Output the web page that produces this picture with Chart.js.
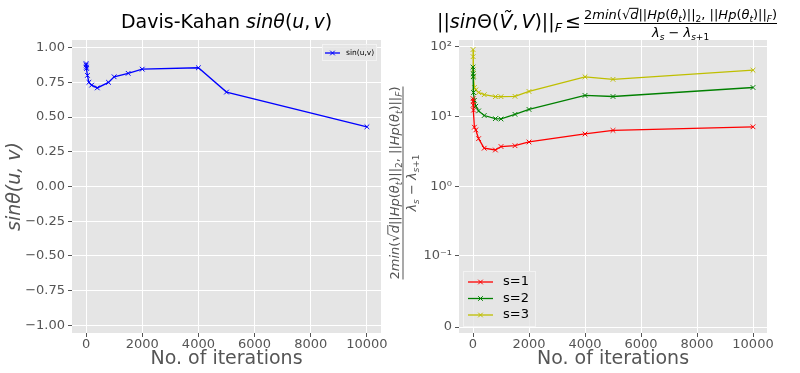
<!DOCTYPE html>
<html><head><meta charset="utf-8">
<script src="https://cdn.jsdelivr.net/npm/chart.js@4/dist/chart.umd.min.js"></script>
<style>
html,body{margin:0;padding:0;background:#fff;width:800px;height:373px;overflow:hidden;}
canvas{position:absolute;top:0;}
#c1{left:0;} #c2{left:380px;}
</style></head>
<body>
<canvas id="c1" width="395" height="373"></canvas>
<canvas id="c2" width="420" height="373"></canvas>
<script>
// ---------- data ----------
const iterations = [1, 5, 10, 20, 50, 100, 200, 400, 800, 1000, 1500, 2000, 4000, 5000, 10000];
const sinUV      = [0.885, 0.875, 0.86, 0.85, 0.80, 0.75, 0.73, 0.71, 0.75, 0.79, 0.815, 0.845, 0.855, 0.68, 0.43];
const boundS1    = [18, 16.5, 14.5, 12.3, 7.0, 6.4, 4.8, 3.5, 3.3, 3.7, 3.8, 4.3, 5.6, 6.3, 7.1];
const boundS2    = [51, 41, 37, 22, 17, 14, 12, 10.3, 9.3, 9.2, 10.7, 12.6, 20, 19.3, 26];
const boundS3    = [91, 72, 47, 38, 26, 24, 22, 20.5, 19.2, 19.2, 19.4, 22.8, 37, 34, 46];
const xTickValues = [0, 2000, 4000, 6000, 8000, 10000];
const leftYTicks  = [-1, -0.75, -0.5, -0.25, 0, 0.25, 0.5, 0.75, 1];
const rightYTicks = [0, 0.1, 1, 10, 100];
const rightYLabels = {0:'0', 0.1:'10\u207B\u00B9', 1:'10\u2070', 10:'10\u00B9', 100:'10\u00B2'};
const seriesNames = ['s=1', 's=2', 's=3'];
const seriesColors = ['#ff0000', '#008000', '#bfbf00'];

// ---------- symlog scale ----------
const LINTHRESH = 0.1, LINSCALE = 1.02;
function symT(v){ const a = Math.abs(v), s = v < 0 ? -1 : 1;
  return s * (a <= LINTHRESH ? a / LINTHRESH * LINSCALE : LINSCALE + Math.log10(a / LINTHRESH)); }
function symInv(t){ const a = Math.abs(t), s = t < 0 ? -1 : 1;
  return s * (a <= LINSCALE ? a / LINSCALE * LINTHRESH : LINTHRESH * Math.pow(10, a - LINSCALE)); }
class SymlogScale extends Chart.Scale {
  static id = 'symlog';
  static defaults = {};
  parse(raw){ return +raw; }
  determineDataLimits(){
    const {min, max} = this.getMinMax(true);
    this.min = Number.isFinite(this.options.min) ? this.options.min : min;
    this.max = Number.isFinite(this.options.max) ? this.options.max : max;
  }
  buildTicks(){ return rightYTicks.map(v => ({value: v})); }
  configure(){ super.configure(); this._t0 = symT(this.min); this._t1 = symT(this.max); }
  getLabelForValue(v){ return String(v); }
  getPixelForValue(v){ return this.getPixelForDecimal((symT(v) - this._t0) / (this._t1 - this._t0)); }
  getValueForPixel(p){ return symInv(this._t0 + this.getDecimalForPixel(p) * (this._t1 - this._t0)); }
}
Chart.register(SymlogScale);

Chart.defaults.font.family = '"DejaVu Sans"';
const FAM = '"DejaVu Sans"';
const GREY = '#555555';

function F(size, italic){ return (italic ? 'italic ' : '') + size + 'px ' + FAM; }
function runs(ctx, list, x, y, draw){
  let cx = x;
  for (const r of list){
    ctx.font = F(r.s, r.i);
    const w = ctx.measureText(r.t).width;
    if (draw){
      ctx.fillText(r.t, cx, y + (r.dy || 0));
      if (r.o) ctx.fillRect(cx - 1, y - r.s * 0.86, w + 1, 1);
    }
    cx += w + (r.g || 0);
  }
  return cx - x;
}
function drawFrac(ctx, num, den, cx, barY){
  const wN = runs(ctx, num, 0, 0, false), wD = runs(ctx, den, 0, 0, false);
  const W = Math.max(wN, wD);
  runs(ctx, num, cx - wN / 2, barY - 4.5, true);
  ctx.fillRect(cx - W / 2, barY - 0.5, W, 1);
  runs(ctx, den, cx - wD / 2, barY + 13, true);
  return W;
}
const N = 13, SB = 9, SD = 3;
const numRuns = [
  {t:'2',s:N},{t:'min',s:N,i:1},{t:'(',s:N},{t:'\u221A',s:N},{t:'d',s:N,i:1,o:1},{t:'||',s:N},{t:'Hp',s:N,i:1},{t:'(',s:N},{t:'\u03B8',s:N,i:1},{t:'t',s:SB,i:1,dy:SD},{t:')',s:N},{t:'||',s:N},{t:'2',s:SB,dy:SD},{t:', ',s:N},
  {t:'||',s:N},{t:'Hp',s:N,i:1},{t:'(',s:N},{t:'\u03B8',s:N,i:1},{t:'t',s:SB,i:1,dy:SD},{t:')',s:N},{t:'||',s:N},{t:'F',s:SB,i:1,dy:SD},{t:')',s:N}
];
const denRuns = [{t:'\u03BB',s:N,i:1},{t:'s',s:SB,i:1,dy:SD},{t:' \u2212 ',s:N},{t:'\u03BB',s:N,i:1},{t:'s',s:SB,i:1,dy:SD},{t:'+1',s:SB,dy:SD}];

function drawLegend(ctx, box, items, fontSize, lineX0, lineX1, textX, rowYs){
  ctx.save();
  ctx.fillStyle = 'rgba(229,229,229,0.8)';
  ctx.fillRect(box[0], box[1], box[2] - box[0], box[3] - box[1]);
  ctx.strokeStyle = '#f2f2f2'; ctx.lineWidth = 1;
  ctx.strokeRect(box[0] + 0.5, box[1] + 0.5, box[2] - box[0] - 1, box[3] - box[1] - 1);
  items.forEach((it, k) => {
    const y = rowYs[k];
    ctx.strokeStyle = it.color; ctx.lineWidth = 1.3;
    ctx.beginPath(); ctx.moveTo(lineX0, y); ctx.lineTo(lineX1, y); ctx.stroke();
    const mx = (lineX0 + lineX1) / 2, r = 2.3;
    ctx.lineWidth = 1;
    ctx.beginPath(); ctx.moveTo(mx - r, y - r); ctx.lineTo(mx + r, y + r); ctx.moveTo(mx - r, y + r); ctx.lineTo(mx + r, y - r); ctx.stroke();
    ctx.fillStyle = '#000'; ctx.font = F(fontSize); ctx.textBaseline = 'middle';
    ctx.fillText(it.label, textX, y);
  });
  ctx.restore();
}

const bgPlugin = { id:'bg', beforeDraw(chart){ const {ctx, chartArea:a} = chart;
  ctx.save(); ctx.fillStyle = '#e5e5e5'; ctx.fillRect(a.left, a.top, a.right - a.left, a.bottom - a.top); ctx.restore(); } };

function xAxis(){ return {
  type:'linear', min:-500, max:10500,
  afterBuildTicks: s => { s.ticks = xTickValues.map(v => ({value: v})); },
  ticks:{ color:GREY, font:{size:13}, padding:0, maxRotation:0, autoSkip:false, callback: v => String(v) },
  grid:{ color:'#ffffff', lineWidth:1, tickColor:GREY, tickLength:4, drawTicks:true },
  border:{ display:false },
  title:{ display:true, text:'No. of iterations', color:GREY, font:{size:19}, padding:{top:0, bottom:3} },
  afterFit: s => { s.height = 40; }
}; }

// ---------- left chart ----------
new Chart(document.getElementById('c1'), {
  type:'line',
  data:{ datasets:[{ label:'sin(u,v)', data: iterations.map((x, i) => ({x, y: sinUV[i]})),
    borderColor:'#0000ff', backgroundColor:'#0000ff', borderWidth:1.3, pointStyle:'crossRot', pointRadius:3.3,
    pointBorderWidth:1, pointBorderColor:'#0000ff', tension:0, fill:false }] },
  options:{
    responsive:false, animation:false, devicePixelRatio:1,
    layout:{ padding:{ left:0, right:14, top:40, bottom:0 } },
    plugins:{ legend:{display:false}, title:{display:false}, tooltip:{enabled:false} },
    scales:{
      x: xAxis(),
      y: { type:'linear', min:-1.055, max:1.055,
        afterBuildTicks: s => { s.ticks = leftYTicks.map(v => ({value: v})); },
        ticks:{ color:GREY, font:{size:13}, padding:3, callback: v => (v < 0 ? '\u2212' : '') + Math.abs(v).toFixed(2) },
        grid:{ color:'#ffffff', lineWidth:1, tickColor:GREY, tickLength:4, drawTicks:true },
        border:{ display:false },
        title:{ display:true, text:'sin\u03B8(u, v)', color:GREY, font:{size:19, style:'italic'}, padding:{top:4, bottom:0} },
        afterFit: s => { s.width = 72; } }
    }
  },
  plugins:[bgPlugin, { id:'txt1', afterDraw(chart){
    const ctx = chart.ctx; ctx.save(); ctx.fillStyle = '#000'; ctx.textBaseline = 'alphabetic';
    const T = [{t:'Davis-Kahan ',s:19},{t:'sin',s:19,i:1},{t:'\u03B8',s:19,i:1},{t:'(',s:19},{t:'u',s:19,i:1},{t:',',s:19,g:3},{t:'v',s:19,i:1},{t:')',s:19}];
    const w = runs(ctx, T, 0, 0, false);
    runs(ctx, T, 226.5 - w / 2, 28, true);
    ctx.restore();
    drawLegend(ctx, [322, 44, 377, 61], [{label:'sin(u,v)', color:'#0000ff'}], 7.5, 325, 340, 346, [53]);
  } }]
});

// ---------- right chart ----------
new Chart(document.getElementById('c2'), {
  type:'line',
  data:{ datasets:[boundS1, boundS2, boundS3].map((arr, k) => ({
    label: seriesNames[k], data: iterations.map((x, i) => ({x, y: arr[i]})),
    borderColor: seriesColors[k], backgroundColor: seriesColors[k], borderWidth:1.3,
    pointStyle:'crossRot', pointRadius:3.3, pointBorderWidth:1, pointBorderColor: seriesColors[k], tension:0, fill:false })) },
  options:{
    responsive:false, animation:false, devicePixelRatio:1,
    layout:{ padding:{ left:0, right:33, top:40, bottom:0 } },
    plugins:{ legend:{display:false}, title:{display:false}, tooltip:{enabled:false} },
    scales:{
      x: xAxis(),
      y: { type:'symlog', min: symInv(-0.086), max: symInv(LINSCALE + 3.096),
        ticks:{ color:GREY, font:{size:13}, padding:3, callback: v => rightYLabels[v] },
        grid:{ color:'#ffffff', lineWidth:1, tickColor:GREY, tickLength:4, drawTicks:true },
        border:{ display:false },
        title:{ display:false },
        afterFit: s => { s.width = 79; } }
    }
  },
  plugins:[bgPlugin, { id:'txt2', afterDraw(chart){
    const ctx = chart.ctx, ox = 380;
    ctx.save(); ctx.fillStyle = '#000'; ctx.textBaseline = 'alphabetic';
    const T = [{t:'||',s:19},{t:'sin',s:19,i:1},{t:'\u0398',s:19},{t:'(',s:19},{t:'\u1E7C',s:19,i:1},{t:',',s:19,g:3},{t:'V',s:19,i:1},{t:')',s:19},{t:'||',s:19},{t:'F',s:13,i:1,dy:4,g:3},{t:'\u2264',s:19,g:3}];
    const w = runs(ctx, T, 437 - ox, 28, true);
    const wN = runs(ctx, numRuns, 0, 0, false);
    drawFrac(ctx, numRuns, denRuns, 437 - ox + w + wN / 2, 23.5);
    ctx.fillStyle = GREY;
    ctx.translate(403 - ox, 183); ctx.rotate(-Math.PI / 2);
    drawFrac(ctx, numRuns, denRuns, 0, 0);
    ctx.restore();
    drawLegend(ctx, [463 - ox, 271, 536 - ox, 327], seriesNames.map((n, k) => ({label:n, color:seriesColors[k]})), 13, 468 - ox, 493 - ox, 503 - ox, [282, 298.5, 315]);
  } }]
});
</script>
</body></html>
